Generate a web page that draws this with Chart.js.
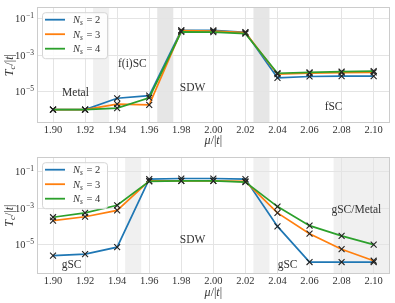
<!DOCTYPE html>
<html><head><meta charset="utf-8">
<script src="https://cdn.jsdelivr.net/npm/chart.js@4/dist/chart.umd.min.js"></script>
<style>
html,body{margin:0;padding:0;background:#fff;}
#wrap{position:relative;width:395px;height:303px;overflow:hidden;}
canvas{position:absolute;left:0;}
</style></head><body>
<div id="wrap">
<canvas id="c1" width="395" height="150" style="top:0"></canvas>
<canvas id="c2" width="395" height="153" style="top:150px"></canvas>
</div>
<script>
// ---------- data ----------
const muValues = [1.90,1.92,1.94,1.96,1.98,2.00,2.02,2.04,2.06,2.08,2.10];
const xTickValues = [1.90,1.92,1.94,1.96,1.98,2.00,2.02,2.04,2.06,2.08,2.10];
const yTickValues = [1e-5,1e-3,1e-1];
const yTickExponents = ['\u22125','\u22123','\u22121'];
const seriesNs = ['2','3','4'];

const topNs2 = [1.0e-6,1.0e-6,4.2e-6,5.9e-6,2.3e-2,2.3e-2,1.8e-2,5.6e-5,6.6e-5,6.9e-5,6.9e-5];
const topNs3 = [1.0e-6,1.0e-6,2.0e-6,1.8e-6,2.2e-2,2.1e-2,1.7e-2,8.9e-5,1.0e-4,1.07e-4,1.12e-4];
const topNs4 = [1.0e-6,1.0e-6,1.2e-6,4.5e-6,1.9e-2,1.8e-2,1.5e-2,1.0e-4,1.12e-4,1.23e-4,1.32e-4];

const botNs2 = [2.5e-6,3.0e-6,7.2e-6,4.0e-2,4.3e-2,4.3e-2,4.0e-2,1.0e-4,1.1e-6,1.1e-6,1.1e-6];
const botNs3 = [2.1e-4,3.4e-4,7.6e-4,3.2e-2,3.2e-2,3.2e-2,3.0e-2,5.5e-4,4.0e-5,5.6e-6,1.3e-6];
const botNs4 = [3.2e-4,5.5e-4,1.45e-3,3.0e-2,3.2e-2,3.2e-2,2.75e-2,1.23e-3,1.1e-4,3.0e-5,1.0e-5];

const topBandStart = [1.925,1.965,2.025];
const topBandEnd   = [1.935,1.975,2.035];
const botBandStart = [1.945,2.025,2.075];
const botBandEnd   = [1.955,2.035,2.115];

const topPhaseNames = ['Metal','f(i)SC','SDW','fSC'];
const topPhaseMu    = [1.914,1.9495,1.987,2.075];
const topPhaseTc    = [8e-6,3.2e-4,1.5e-5,1.45e-6];
const botPhaseNames = ['gSC','SDW','gSC','gSC/Metal'];
const botPhaseMu    = [1.9116,1.987,2.0463,2.0892];
const botPhaseTc    = [7.2e-7,1.9e-5,7.9e-7,7.6e-4];

// ---------- styling ----------
const COLORS = ['#1f77b4','#ff7f0e','#2ca02c'];
const SERIF = '"Liberation Serif", "DejaVu Serif", serif';
const TXT = '#333333';

function makeDatasets(arrs){
  return arrs.map((a,i)=>({
    label: 'Ns = ' + seriesNs[i],
    data: muValues.map((m,j)=>({x:m, y:a[j]})),
    borderColor: COLORS[i],
    backgroundColor: COLORS[i],
    borderWidth: 1.7,
    pointStyle: 'crossRot',
    pointRadius: 4.2,
    pointBorderWidth: 1.1,
    pointBorderColor: '#222',
    pointBackgroundColor: '#222',
    tension: 0,
    order: 3 - i
  }));
}

const decor = {
  id: 'decor',
  beforeDraw(chart, args, o){
    const {ctx, chartArea:a, scales:{x}} = chart;
    ctx.save();
    o.bandStart.forEach((s,i)=>{
      const x0 = Math.max(a.left, x.getPixelForValue(s));
      const x1 = Math.min(a.right, x.getPixelForValue(o.bandEnd[i]));
      ctx.fillStyle = o.bandColors[i];
      ctx.fillRect(x0, a.top, x1-x0, a.bottom-a.top);
    });
    ctx.restore();
  },
  afterDatasetsDraw(chart, args, o){
    const {ctx, chartArea:a, scales:{x,y}} = chart;
    ctx.save();
    // phase annotations
    ctx.fillStyle = TXT;
    ctx.font = '11.5px ' + SERIF;
    ctx.textAlign = 'center';
    ctx.textBaseline = 'middle';
    o.phaseNames.forEach((n,i)=>{
      ctx.fillText(n, x.getPixelForValue(o.phaseMu[i]), y.getPixelForValue(o.phaseTc[i]));
    });
    // frame
    ctx.strokeStyle = '#cccccc';
    ctx.lineWidth = 1;
    ctx.strokeRect(Math.round(a.left)+0.5, Math.round(a.top)+0.5, Math.round(a.right-a.left)-1, Math.round(a.bottom-a.top)-1);
    // legend
    const lx = a.left + 5.5, ly = a.top + 5, lw = 65, lh = 46;
    ctx.beginPath();
    if (ctx.roundRect) ctx.roundRect(lx, ly+0.5, lw, lh, 3); else ctx.rect(lx, ly+0.5, lw, lh);
    ctx.fillStyle = 'rgba(255,255,255,0.85)';
    ctx.fill();
    ctx.strokeStyle = '#d5d5d5';
    ctx.stroke();
    chart.data.datasets.forEach((d,i)=>{
      const yy = a.top + 12.5 + i*14.5;
      ctx.strokeStyle = d.borderColor;
      ctx.lineWidth = 1.8;
      ctx.beginPath();
      ctx.moveTo(a.left+8, yy); ctx.lineTo(a.left+28, yy);
      ctx.stroke();
      ctx.fillStyle = TXT;
      ctx.textAlign = 'left';
      ctx.textBaseline = 'alphabetic';
      let tx = a.left + 36;
      const base = yy + 3.5;
      ctx.font = 'italic 10.5px ' + SERIF;
      ctx.fillText('N', tx, base); tx += ctx.measureText('N').width;
      ctx.font = 'italic 7.5px ' + SERIF;
      ctx.fillText('s', tx, base + 2); tx += ctx.measureText('s').width + 1;
      ctx.font = '10.5px ' + SERIF;
      ctx.fillText(' = ' + seriesNs[i], tx, base);
    });
    ctx.restore();
  },
  afterDraw(chart, args, o){
    const {ctx, chartArea:a, scales:{y}} = chart;
    ctx.save();
    ctx.fillStyle = TXT;
    // y tick labels with superscripts
    yTickValues.forEach((v,i)=>{
      const py = y.getPixelForValue(v);
      ctx.font = '7.5px ' + SERIF;
      const ew = ctx.measureText(yTickExponents[i]).width;
      const right = a.left - 3;
      ctx.textAlign = 'left';
      ctx.textBaseline = 'alphabetic';
      ctx.fillText(yTickExponents[i], right - ew, py - 0.5);
      ctx.font = '10.5px ' + SERIF;
      const bw = ctx.measureText('10').width;
      ctx.fillText('10', right - ew - bw - 0.5, py + 3.5);
    });
    // x title  mu/|t|
    const cx = (a.left + a.right)/2;
    const ty = o.xTitleY;
    const parts = [['italic ','\u03bc'],['','/|'],['italic ','t'],['','|']];
    ctx.textBaseline = 'middle';
    let total = 0;
    parts.forEach(p=>{ ctx.font = p[0] + '12px ' + SERIF; total += ctx.measureText(p[1]).width; });
    let px = cx - total/2;
    ctx.textAlign = 'left';
    parts.forEach(p=>{ ctx.font = p[0] + '12px ' + SERIF; ctx.fillText(p[1], px, ty); px += ctx.measureText(p[1]).width; });
    // y title  T_c/|t|
    ctx.translate(10, (a.top + a.bottom)/2);
    ctx.rotate(-Math.PI/2);
    const yparts = [['italic ','T',12,0],['italic ','c',9,3],['','/|',12,0],['italic ','t',12,0],['','|',12,0]];
    total = 0;
    yparts.forEach(p=>{ ctx.font = p[0] + p[2] + 'px ' + SERIF; total += ctx.measureText(p[1]).width; });
    px = -total/2;
    yparts.forEach(p=>{ ctx.font = p[0] + p[2] + 'px ' + SERIF; ctx.fillText(p[1], px, p[3]); px += ctx.measureText(p[1]).width; });
    ctx.restore();
  }
};

function makeChart(id, arrs, cfg){
  return new Chart(document.getElementById(id), {
    type: 'line',
    data: { datasets: makeDatasets(arrs) },
    options: {
      responsive: false,
      animation: false,
      devicePixelRatio: 1,
      layout: { padding: { left: 0, top: cfg.padTop, right: 1, bottom: 0 } },
      plugins: {
        legend: { display: false },
        tooltip: { enabled: false },
        decor: cfg.decor
      },
      scales: {
        x: {
          type: 'linear', min: 1.89, max: 2.11, bounds: 'data',
          afterBuildTicks: s => { s.ticks = xTickValues.map(v=>({value:v})); },
          afterFit: s => { s.height = cfg.xAxisH; },
          ticks: { callback: v => Number(v).toFixed(2), color: TXT, font: { family: SERIF, size: 10.5 }, padding: 1, maxRotation: 0, autoSkip: false },
          grid: { color: '#e4e4e4', lineWidth: 1, drawTicks: false },
          border: { display: false }
        },
        y: {
          type: 'logarithmic', min: cfg.yMin, max: cfg.yMax, bounds: 'data',
          afterBuildTicks: s => { s.ticks = yTickValues.map(v=>({value:v})); },
          afterFit: s => { s.width = 37; },
          ticks: { callback: () => '', padding: 0 },
          grid: { color: '#e4e4e4', lineWidth: 1, drawTicks: false },
          border: { display: false }
        }
      }
    },
    plugins: [decor]
  });
}

makeChart('c1', [topNs2, topNs3, topNs4], {
  padTop: 2, xAxisH: 27, yMin: 1.83e-7, yMax: 0.428,
  decor: {
    bandStart: topBandStart, bandEnd: topBandEnd,
    bandColors: ['#f0f0f0','#e6e6e6','#e6e6e6'],
    phaseNames: topPhaseNames, phaseMu: topPhaseMu, phaseTc: topPhaseTc,
    xTitleY: 141
  }
});
makeChart('c2', [botNs2, botNs3, botNs4], {
  padTop: 2, xAxisH: 29, yMin: 2.42e-7, yMax: 0.638,
  decor: {
    bandStart: botBandStart, bandEnd: botBandEnd,
    bandColors: ['#f0f0f0','#f0f0f0','#f0f0f0'],
    phaseNames: botPhaseNames, phaseMu: botPhaseMu, phaseTc: botPhaseTc,
    xTitleY: 143
  }
});
</script>
</body></html>
